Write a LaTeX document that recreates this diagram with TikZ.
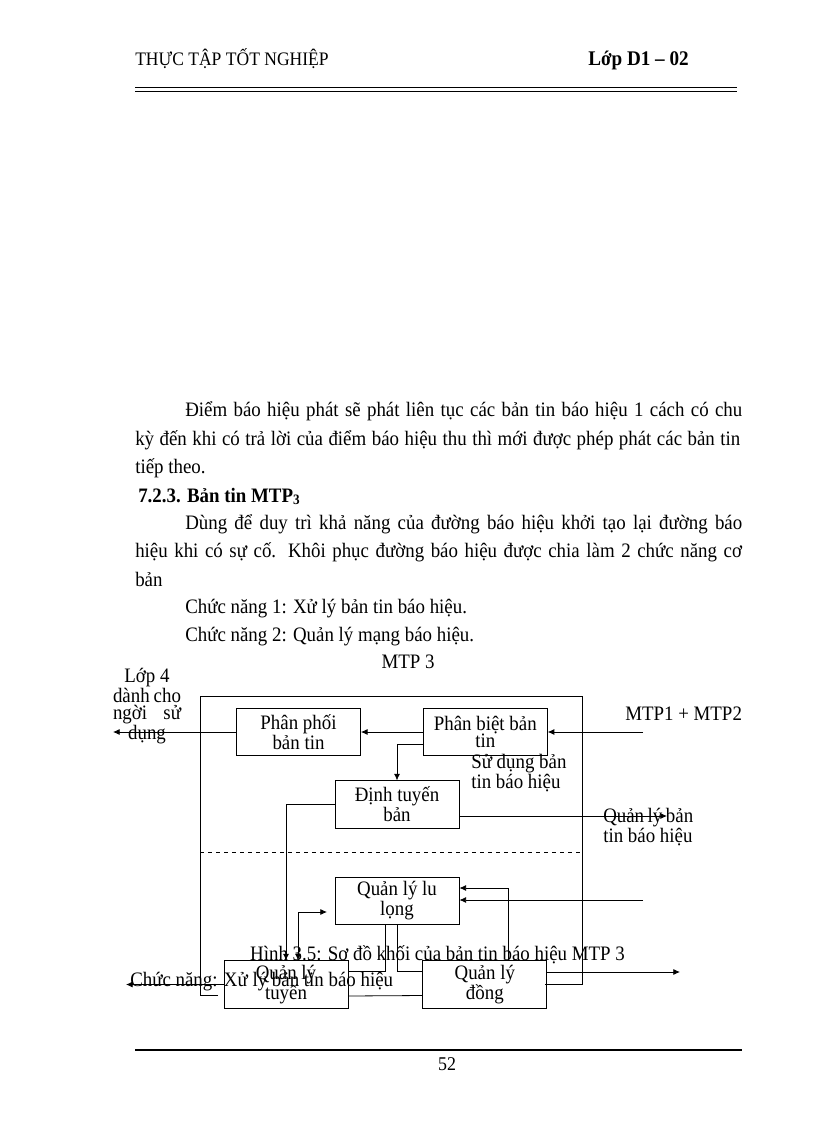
\documentclass[tikz,border=0pt]{standalone}
\usepackage{fontspec}
\setmainfont{Liberation Serif}[FakeStretch=0.92]
\usetikzlibrary{arrows.meta,calc,positioning}
\newcommand\chuthan{\fontsize{15.4}{21.4}\selectfont}
\newcommand\chuhinh{\fontsize{15.4}{13}\selectfont}
\tikzset{
  khoi/.style={
    draw,
    line width=0.6pt,
    align=center,
    font=\chuhinh,
    minimum width=93pt,
    minimum height=35.5pt,
    inner sep=0pt
  },
  nhan/.style={
    font=\chuhinh,
    inner sep=0pt
  },
  dong/.style={
    font=\chuthan,
    inner sep=0pt,
    anchor=base west
  },
  muiten/.style={
    -{Latex[length=5pt,width=4.5pt]},
    line width=0.6pt
  },
  noi/.style={
    line width=0.6pt
  }
}

\begin{document}
\begin{tikzpicture}[x=0.75pt,y=-0.75pt]
\useasboundingbox (0,0) rectangle (816,1123);
% dau trang
\node[font=\fontsize{14.3}{15}\selectfont,inner sep=0pt,anchor=base west] (tieude) at (135,66) {THỰC TẬP TỐT NGHIỆP};
\node[font=\fontsize{15.6}{16}\selectfont\bfseries,inner sep=0pt,anchor=base west] (lop) at (588,66) {Lớp D1 – 02};
\draw[line width=0.75pt] (135,88) -- (737,88);
\draw[line width=0.75pt] (135,91.5) -- (737,91.5);
% van ban
\node[dong] (d1) at (185,416) {\makebox[417.75pt][s]{Điểm báo hiệu phát sẽ phát liên tục các bản tin báo hiệu 1 cách có chu}};
\node[dong] (d2) at (135,445) {\makebox[453.75pt][s]{kỳ đến khi có trả lời của điểm báo hiệu thu thì mới được phép phát các bản tin}};
\node[dong] (d3) at (135,473) {tiếp theo.};
\node[dong,font=\chuthan\bfseries] (d4) at (138,502) {7.2.3. Bản tin MTP\textsubscript{3}};
\node[dong] (d5) at (185,529) {\makebox[417.75pt][s]{Dùng để duy trì khả năng của đường báo hiệu khởi tạo lại đường báo}};
\node[dong] (d6) at (135,557) {\makebox[455pt][s]{hiệu khi có sự cố. Khôi phục đường báo hiệu được chia làm 2 chức năng cơ}};
\node[dong] (d7) at (135,586) {bản};
\node[dong] (d8) at (185,613) {Chức năng 1: Xử lý bản tin báo hiệu.};
\node[dong] (d9) at (185,641) {Chức năng 2: Quản lý mạng báo hiệu.};
% so do
\node[nhan] (mtp) at (408,662) {MTP 3};
\draw[noi] (218,995) -- (200,995) -- (200,696) -- (582,696) -- (582,984) -- (545,984);
\draw[noi,dashed] (200,852) -- (580,852);
\node[khoi] (pp) at (298.5,732) {Phân phối\\bản tin};
\node[khoi,right=46.5pt of pp] (pb) {Phân biệt bản\\tin};
\node[khoi] (dt) at (397,804.5) {Định tuyến\\bản};
\node[khoi,below=36pt of dt] (qll) {Quản lý lu\\lọng};
\node[khoi] (qlt) at (286,984.5) {Quản lý\\tuyến};
\node[khoi,right=55.5pt of qlt] (qld) {Quản lý\\đồng};
\coordinate (vao) at (643,732);
\coordinate (ra4) at (113,732);
\coordinate (raql) at (667,816);
\coordinate (goc) at (298,912);
\coordinate (dinh) at (327,912);
\coordinate (gocld) at (508,888);
\coordinate (vao2) at (643,900);
\coordinate (rald) at (680,972);
\coordinate (rachuc) at (126,984.5);
\draw[muiten] (vao) -- (pb.east);
\draw[muiten] (pb.west) -- (pp.east);
\draw[muiten] (pp.west) -- (ra4);
\draw[muiten] ($(pb.west)+(0,12)$) -| (dt.north);
\draw[muiten] (dt.east |- raql) -- (raql);
\draw[muiten] (dt.west) -| (qlt.north);
\draw[{Latex[length=5pt,width=4.5pt]}-{Latex[length=5pt,width=4.5pt]},line width=0.6pt] (dinh) -- (goc) -- (goc |- qlt.north);
\draw[muiten] (qld.north -| gocld) -- (gocld) -- (qll.east |- gocld);
\draw[muiten] (vao2) -- (qll.east |- vao2);
\draw[noi] ($(qll.south)+(-12,0)$) |- ($(qlt.east)+(0,-13)$);
\draw[noi] (qll.south) |- ($(qld.west)+(0,-13)$);
\draw[noi] ($(qlt.east)+(0,11.5)$) -- ($(qld.west)+(0,11)$);
\draw[muiten] (qld.east |- rald) -- (rald);
\draw[muiten] (qlt.west) -- (rachuc);
% nhan ngoai
\node[nhan,align=center] (lop4) at (147,706) {Lớp 4\\\makebox[51pt][s]{dành cho}\\\makebox[51pt][s]{ngời sử}\\dụng};
\node[nhan,anchor=west] (mtp12) at (625,714) {MTP1 + MTP2};
\node[nhan,align=left,anchor=west] (sudung) at (471,773.5) {Sử dụng bản\\tin báo hiệu};
\node[nhan,align=left,anchor=west] (qlbt) at (603,827) {\makebox[67.5pt][s]{Quản lý bản}\\tin báo hiệu};
\node[nhan] (chuthich) at (437.5,955) {Hình 3.5: Sơ đồ khối của bản tin báo hiệu MTP 3};
\node[nhan,anchor=west] (chucnang) at (130,982) {Chức năng: Xử lý bản tin báo hiệu};
% chan trang
\draw[line width=1.5pt] (135,1050) -- (742,1050);
\node[nhan,font=\fontsize{14.6}{15}\selectfont] (trang) at (447,1064) {52};
\end{tikzpicture}
\end{document}
